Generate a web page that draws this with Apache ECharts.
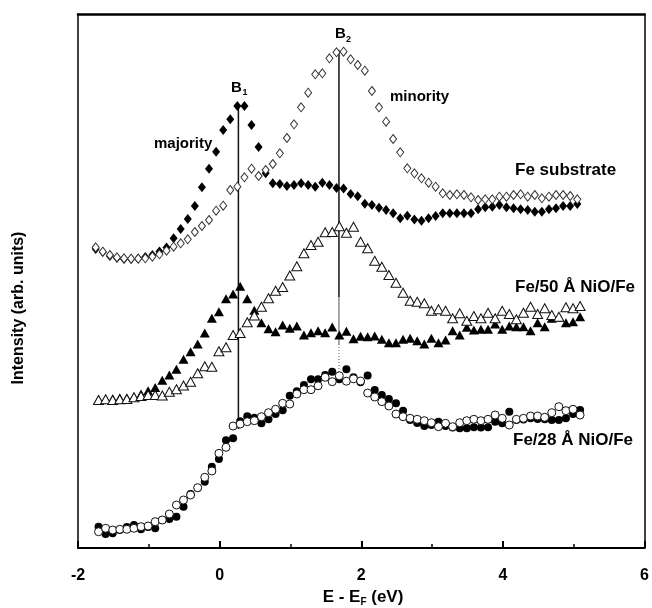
<!DOCTYPE html>
<html><head><meta charset="utf-8">
<script src="https://cdn.jsdelivr.net/npm/echarts@6/dist/echarts.min.js"></script>
<style>html,body{margin:0;padding:0;background:#fff}#c{width:652px;height:608px}</style>
</head><body><div id="c"></div>
<script>
// Energy grids (eV)
const energyFe = [-1.75,-1.65,-1.55,-1.45,-1.35,-1.25,-1.15,-1.05,-0.95,-0.85,-0.75,-0.65,-0.55,-0.45,-0.35,-0.25,-0.15,-0.05,0.05,0.15,0.25,0.35,0.45,0.55,0.65,0.75,0.85,0.95,1.05,1.15,1.25,1.35,1.45,1.55,1.65,1.75,1.85,1.95,2.05,2.15,2.25,2.35,2.45,2.55,2.65,2.75,2.85,2.95,3.05,3.15,3.25,3.35,3.45,3.55,3.65,3.75,3.85,3.95,4.05,4.15,4.25,4.35,4.45,4.55,4.65,4.75,4.85,4.95,5.05];
const energyNiO = [-1.71,-1.61,-1.51,-1.41,-1.31,-1.21,-1.11,-1.01,-0.91,-0.81,-0.71,-0.61,-0.51,-0.41,-0.31,-0.21,-0.11,-0.01,0.09,0.19,0.29,0.39,0.49,0.59,0.69,0.79,0.89,0.99,1.09,1.19,1.29,1.39,1.49,1.59,1.69,1.79,1.89,1.99,2.09,2.19,2.29,2.39,2.49,2.59,2.69,2.79,2.89,2.99,3.09,3.19,3.29,3.39,3.49,3.59,3.69,3.79,3.89,3.99,4.09,4.19,4.29,4.39,4.49,4.59,4.69,4.79,4.89,4.99,5.09];

// Fe substrate (diamonds)
const feMajority = [299,296,292,290,289,289,289.5,291,293,296.5,300.5,309.7,319,329,342,360.7,379.3,396.3,418,428.7,442,442,423,401,374.7,364.7,364,362,363,364.7,363,361.3,365.3,363,360,359.5,354,351.7,344.3,343,340.3,338,334.7,329.7,332.3,328.5,327.3,329.7,332,334.7,334.7,334.7,334.7,334.7,338.7,340.7,341.3,343,340.7,339.7,338.7,338,336.3,336.3,338.7,339.7,342,342,344];
const feMinority = [300.7,296.3,293,290.7,289.7,289.3,289.3,289.7,291.3,293.7,297.3,301.3,304.7,308.7,316,322,328,337.3,342.3,358,361.3,370.7,379.3,372,378,384,394.7,410,423.7,440.7,455.3,473.7,474.7,489.7,495.7,496.3,488.7,483,477.3,457,440.7,426.3,409,395.7,379.7,374.7,369.7,365.3,361.3,354.7,353,353.7,353,350.7,348,348.7,348.7,351.3,351.3,353,353.7,351.3,353,349.7,351.3,353,353,352,348.7];

// Fe/50 Å NiO/Fe (triangles)
const fe50Majority = [148.5,149,149.3,150,150,151.3,154,157.3,160.5,167.7,173,178.7,188.7,196.3,204,215,229.7,236.3,249.2,254,261.7,249.2,237.7,225.3,219.2,216.3,223,219.7,222,213,215.3,217.3,215.3,221,213,216.8,209.2,211.7,211.3,212,208.7,205.3,205.3,208.7,209.7,207.3,204,209.7,205.3,208,217.3,213,220.7,218,218.7,218.7,224,218.7,222,221.3,221.3,217.3,225.3,221.3,229.7,230.7,225.3,226.3,231.3];
const fe50Minority = [148,148.7,148,148.7,149,150.7,152,153,153,152.5,156.3,158.7,162.5,166.3,174.7,181.7,181.3,196.8,200.7,213,215,225.8,232.5,241.3,249.7,257.3,261,272.5,281.7,294.7,303,306.3,315.7,316,321.7,315.3,321.3,306.3,299.7,287.3,281.3,273,265.3,255.3,247.3,246.3,244.7,237.3,238.7,237.3,229.7,234.7,227.3,232,229.7,235.3,229.7,237.3,234,228.7,235.3,241.3,234,239.7,233,231.3,240.7,239.7,242];

// Fe/28 Å NiO/Fe (circles)
const fe28Filled = [21.3,14,14.7,18,21,23,18.7,21,19.7,28,29,31.3,41.3,54,60,66.3,81.3,89,107.7,109.7,126.8,131.7,130.2,124.7,128.7,134,137.7,152.2,156.8,163,168.7,168.7,173,176.3,168.7,178.7,170.7,165.8,172.5,158,153,149,144.7,137.3,128,125,122,123,126.3,122,120.5,119.7,119.7,120.7,120.5,120.7,126.3,124.7,136.3,128,128.5,129.7,129,128.7,128,128,129.7,134,138];
const fe28Open = [16.3,19.7,18,18.7,18.7,19.7,21.3,22,26.3,28,34,43,48,53,60.3,70.7,77,94.7,100.7,122,124,126.3,127.3,131.3,135.3,138.7,144.7,144,154,158.3,158.3,162.2,170.7,166.3,172.2,166.8,169.2,167,155,151,146.3,142,134,131.3,129.7,128.7,127.3,125.3,121.3,124.7,121.3,125.3,127.3,128.7,127.3,128.7,133,129.7,123,128.7,129.7,132,132,130.7,135.3,141.3,137.3,138.7,133];

// Peak markers B1, B2: energy and intensity extent
const peakB1 = {energy: 0.265, bottom: 119, top: 443};
const peakB2 = {energy: 1.685, bottom: 170, dotStart: 203, thinStart: 251, top: 498};

const xTicks = [-2, 0, 2, 4, 6];

const FONT = '"Liberation Sans", Arial, Helvetica, sans-serif';
const pairs = (xs, ys) => xs.map((x, i) => [x, ys[i]]);
const vline = (e, a, b) => [[e, a], [e, b]];

const filled = {color: '#000', opacity: 1};
const open = {color: '#fff', borderColor: '#111', borderWidth: 1, opacity: 1};

const chart = echarts.init(document.getElementById('c'), null, {renderer: 'canvas'});
chart.setOption({
  animation: false,
  backgroundColor: '#fff',
  grid: {left: 78, right: 5, top: 14, bottom: 60, show: false},
  xAxis: [{
    type: 'value', min: xTicks[0], max: xTicks[xTicks.length - 1], interval: 2, position: 'bottom',
    axisLine: {show: true, onZero: false, lineStyle: {color: '#000', width: 2}},
    axisTick: {show: true, inside: true, length: 7, lineStyle: {color: '#000', width: 2}},
    minorTick: {show: true, splitNumber: 2, length: 4, lineStyle: {color: '#000', width: 1.5}},
    splitLine: {show: false},
    axisLabel: {fontSize: 16, fontWeight: 'bold', color: '#000', fontFamily: FONT, margin: 20}
  }, {
    type: 'value', min: xTicks[0], max: xTicks[xTicks.length - 1], position: 'top',
    axisLine: {show: true, onZero: false, lineStyle: {color: '#000', width: 2.5}},
    axisTick: {show: false}, axisLabel: {show: false}, splitLine: {show: false}
  }],
  yAxis: [{
    type: 'value', min: 0, max: 534,
    axisLine: {show: true, onZero: false, lineStyle: {color: '#000', width: 1.5}},
    axisTick: {show: false}, axisLabel: {show: false}, splitLine: {show: false}
  }, {
    type: 'value', min: 0, max: 534, position: 'right',
    axisLine: {show: true, onZero: false, lineStyle: {color: '#000', width: 1.5}},
    axisTick: {show: false}, axisLabel: {show: false}, splitLine: {show: false}
  }],
  series: [
    {type: 'line', data: vline(peakB1.energy, peakB1.bottom, peakB1.top), symbol: 'none', silent: true,
     lineStyle: {color: '#111', width: 1.5}, z: 1},
    {type: 'line', data: vline(peakB2.energy, peakB2.thinStart, peakB2.top), symbol: 'none', silent: true,
     lineStyle: {color: '#111', width: 1.5}, z: 1},
    {type: 'line', data: vline(peakB2.energy, peakB2.dotStart, peakB2.thinStart), symbol: 'none', silent: true,
     lineStyle: {color: '#555', width: 1}, z: 1},
    {type: 'line', data: vline(peakB2.energy, peakB2.bottom, peakB2.dotStart), symbol: 'none', silent: true,
     lineStyle: {color: '#555', width: 1, type: [1, 2]}, z: 1},

    {type: 'scatter', name: 'Fe majority', data: pairs(energyFe, feMajority), symbol: 'diamond', symbolSize: [8, 10], itemStyle: filled, z: 3},
    {type: 'scatter', name: 'Fe minority', data: pairs(energyFe, feMinority), symbol: 'diamond', symbolSize: [7, 9], itemStyle: {color: '#fff', borderColor: '#333', borderWidth: 1, opacity: 1}, z: 4},
    {type: 'scatter', name: 'Fe/50 majority', data: pairs(energyNiO, fe50Majority), symbol: 'triangle', symbolSize: [10, 9], itemStyle: filled, z: 3},
    {type: 'scatter', name: 'Fe/50 minority', data: pairs(energyNiO, fe50Minority), symbol: 'triangle', symbolSize: [10, 9], itemStyle: open, z: 4},
    {type: 'scatter', name: 'Fe/28 filled', data: pairs(energyNiO, fe28Filled), symbol: 'circle', symbolSize: 8, itemStyle: filled, z: 3},
    {type: 'scatter', name: 'Fe/28 open', data: pairs(energyNiO, fe28Open), symbol: 'circle', symbolSize: 8, itemStyle: open, z: 4}
  ],
  graphic: [
    {type: 'text', x: 19, y: 308, rotation: Math.PI / 2,
     style: {text: 'Intensity (arb. units)', font: 'bold 16px ' + FONT, fill: '#000', align: 'center', verticalAlign: 'middle'}},
    {type: 'text', x: 363, y: 597,
     style: {text: '{a|E - E}{s|F}{a| (eV)}', align: 'center', verticalAlign: 'middle', fill: '#000',
       rich: {a: {fontSize: 17, fontWeight: 'bold', fontFamily: FONT, lineHeight: 20, fill: '#000'},
              s: {fontSize: 10, fontWeight: 'bold', fontFamily: FONT, verticalAlign: 'bottom', fill: '#000'}}}},
    {type: 'text', x: 154, y: 144, style: {text: 'majority', font: 'bold 15px ' + FONT, fill: '#000', verticalAlign: 'middle'}},
    {type: 'text', x: 390, y: 97, style: {text: 'minority', font: 'bold 15px ' + FONT, fill: '#000', verticalAlign: 'middle'}},
    {type: 'text', x: 515, y: 170, style: {text: 'Fe substrate', font: 'bold 17px ' + FONT, fill: '#000', verticalAlign: 'middle'}},
    {type: 'text', x: 515, y: 287, style: {text: 'Fe/50 Å NiO/Fe', font: 'bold 17px ' + FONT, fill: '#000', verticalAlign: 'middle'}},
    {type: 'text', x: 513, y: 440, style: {text: 'Fe/28 Å NiO/Fe', font: 'bold 17px ' + FONT, fill: '#000', verticalAlign: 'middle'}},
    {type: 'text', x: 231, y: 88, style: {text: 'B', font: 'bold 15px ' + FONT, fill: '#000', verticalAlign: 'middle'}},
    {type: 'text', x: 242.5, y: 92.5, style: {text: '1', font: 'bold 9px ' + FONT, fill: '#000', verticalAlign: 'middle'}},
    {type: 'text', x: 335, y: 33.5, style: {text: 'B', font: 'bold 15px ' + FONT, fill: '#000', verticalAlign: 'middle'}},
    {type: 'text', x: 346, y: 39.5, style: {text: '2', font: 'bold 9px ' + FONT, fill: '#000', verticalAlign: 'middle'}}
  ]
});
</script></body></html>
